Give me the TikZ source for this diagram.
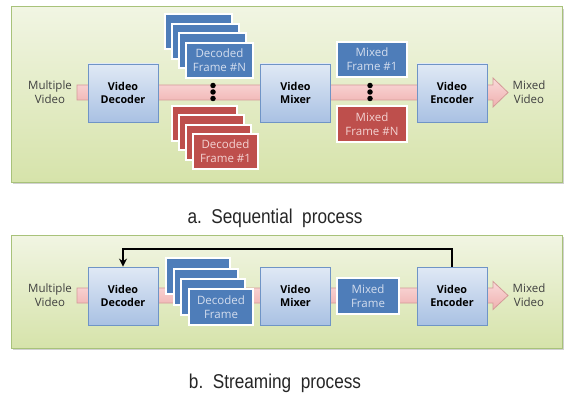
\documentclass[tikz,border=0pt]{standalone}
\usepackage{fontspec}
\usetikzlibrary{arrows.meta}
\setmainfont{Open Sans}
\newfontfamily\capfont[FakeStretch=0.86]{Liberation Sans}
\begin{document}
\begin{tikzpicture}[x=1pt,y=-1pt,
  panel/.style={draw=panelborder,line width=1pt,top color=panelTop,bottom color=panelBot},
  bar/.style={draw=barborder,line width=0.8pt,top color=barTop,bottom color=barBot},
  proc/.style={draw=procborder,line width=0.8pt,top color=procTop,bottom color=procBot,
    minimum width=70pt,minimum height=58pt,align=center,font=\bfseries\fontsize{10.8}{13.5}\selectfont,inner sep=0pt},
  bcard/.style={draw=white,line width=2pt,fill=cardBlue,text=cardBlueText,
    align=center,font=\fontsize{11.5}{14}\selectfont,inner sep=0pt},
  rcard/.style={draw=white,line width=2pt,fill=cardRed,text=cardRedText,
    align=center,font=\fontsize{11.5}{14}\selectfont,inner sep=0pt},
  lbl/.style={align=center,text=lblgray,font=\fontsize{11.5}{13.5}\selectfont,inner sep=0pt},
  dot/.style={circle,fill=black,minimum size=5.5pt,inner sep=0pt},
  captext/.style={anchor=base,font=\capfont\fontsize{20}{22}\selectfont,text=black!85,inner sep=0pt}
]
\definecolor{panelborder}{HTML}{A8C27A}
\definecolor{panelTop}{HTML}{F1F5E3}
\definecolor{panelBot}{HTML}{D6E3AA}
\definecolor{barborder}{HTML}{D49A98}
\definecolor{barTop}{HTML}{FADADA}
\definecolor{barBot}{HTML}{EFB0AF}
\definecolor{procborder}{HTML}{6F94C6}
\definecolor{procTop}{HTML}{E0E9F5}
\definecolor{procBot}{HTML}{A9C1E3}
\definecolor{cardBlue}{HTML}{4E7DB9}
\definecolor{cardBlueText}{HTML}{D3DDEE}
\definecolor{cardRed}{HTML}{BE4F4C}
\definecolor{cardRedText}{HTML}{F3D2D1}
\definecolor{lblgray}{HTML}{404040}
\useasboundingbox (0,0) rectangle (564,393);
\fill[white] (0,0) rectangle (564,393);

% ---------- panel a ----------
\fill[black!18] (13,9) rectangle (564,184);
\path[panel] (11,7) rectangle (562,182);
\path[bar] (77,85) -- (493,85) -- (493,78) -- (508,92.5) -- (493,107) -- (493,100) -- (77,100) -- cycle;

\node[lbl] (inA) at (50,92) {Multiple\\Video};
\node[lbl] (outA) at (529,92) {Mixed\\Video};

\node[proc] (decA) at (123,93) {Video\\Decoder};
\node[proc] (mixA) at (295.5,93) {Video\\Mixer};
\node[proc] (encA) at (452,93) {Video\\Encoder};

% blue stack
\foreach \i/\x/\y in {1/164/13,2/171/22.7,3/178/32.3}
  \node[bcard,minimum width=67pt,minimum height=35pt,anchor=north west] (bA\i) at (\x,\y) {};
\node[bcard,minimum width=67pt,minimum height=35pt,anchor=north west] (bA4) at (185,42) {Decoded\\Frame \#N};
% red stack
\foreach \i/\x/\y in {1/171/105,2/178/114.3,3/185/123.7}
  \node[rcard,minimum width=65pt,minimum height=35pt,anchor=north west] (rA\i) at (\x,\y) {};
\node[rcard,minimum width=65pt,minimum height=35pt,anchor=north west] (rA4) at (192,133) {Decoded\\Frame \#1};

\node[dot] (d1) at (213,85.5) {};
\node[dot] (d2) at (213,92) {};
\node[dot] (d3) at (213,98.5) {};

\node[bcard,minimum width=70pt,minimum height=35pt] (mf1) at (372,59.5) {Mixed\\Frame \#1};
\node[rcard,minimum width=70pt,minimum height=36pt] (mfN) at (372,124) {Mixed\\Frame \#N};
\node[dot] (e1) at (370,85.5) {};
\node[dot] (e2) at (370,92) {};
\node[dot] (e3) at (370,98.5) {};

\node[captext] (capA) at (275,223) {a.\ \ Sequential\ \ process};

% ---------- panel b ----------
\fill[black!18] (13,237) rectangle (564,350);
\path[panel] (11,235) rectangle (562,348);
\path[bar] (77,288) -- (493,288) -- (493,281.5) -- (508,295.5) -- (493,309.5) -- (493,303) -- (77,303) -- cycle;

\node[lbl] (inB) at (50,295) {Multiple\\Video};
\node[lbl] (outB) at (529,295) {Mixed\\Video};

\node[proc] (decB) at (123,296) {Video\\Decoder};
\node[proc] (mixB) at (295.5,296) {Video\\Mixer};
\node[proc] (encB) at (452,296) {Video\\Encoder};

\foreach \i/\x/\y in {1/165/257,2/173/267.5,3/180/278}
  \node[bcard,minimum width=64pt,minimum height=36pt,anchor=north west] (bB\i) at (\x,\y) {};
\node[bcard,minimum width=64pt,minimum height=36pt,anchor=north west] (bB4) at (188,288) {Decoded\\Frame};

\node[bcard,minimum width=62pt,minimum height=36pt] (mfB) at (368,296) {Mixed\\Frame};

\draw[line width=2pt,-{Stealth[length=8pt,width=8pt]}] (encB.north) -- ++(0,-18) -| (decB.north);

\node[captext] (capB) at (275,388) {b.\ \ Streaming\ \ process};
\end{tikzpicture}
\end{document}
